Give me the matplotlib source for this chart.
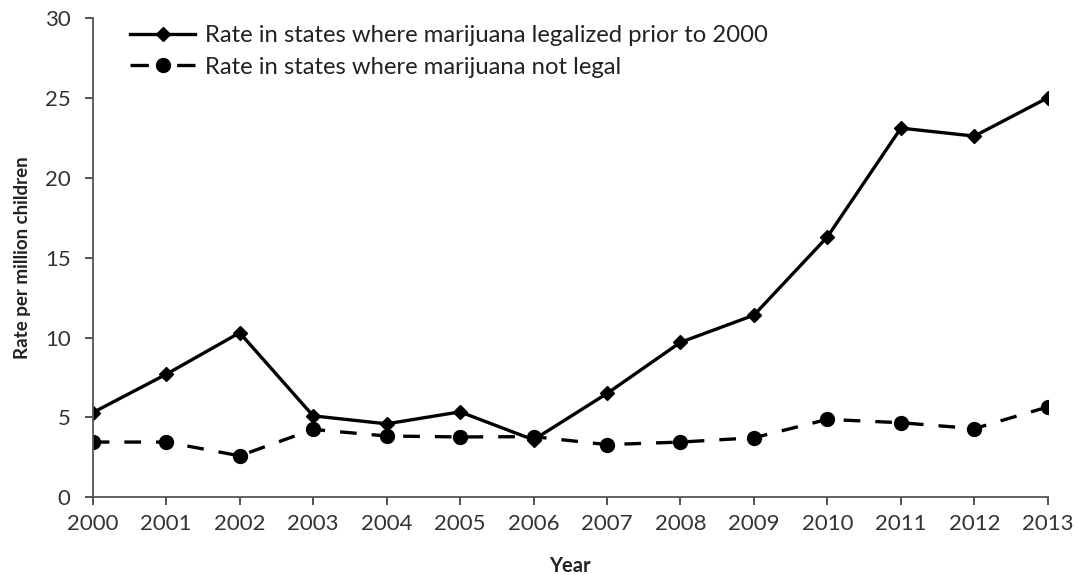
import matplotlib.pyplot as plt

years = [2000, 2001, 2002, 2003, 2004, 2005, 2006, 2007, 2008, 2009, 2010, 2011, 2012, 2013]
legal_rate = [5.3, 7.7, 10.3, 5.1, 4.6, 5.35, 3.6, 6.5, 9.7, 11.4, 16.3, 23.1, 22.6, 25.0]
not_legal_rate = [3.46, 3.46, 2.6, 4.25, 3.84, 3.78, 3.8, 3.3, 3.46, 3.73, 4.88, 4.67, 4.3, 5.66]
yticks = [0, 5, 10, 15, 20, 25, 30]

plt.rcParams['font.family'] = ['Lato', 'DejaVu Sans']

fig = plt.figure(figsize=(10.78, 5.75), dpi=100)
ax = fig.add_axes([0.086, 0.135, 0.886, 0.834])

ax.plot(years, legal_rate, color='black', linewidth=2.4, marker='D', markersize=7,
        label='Rate in states where marijuana legalized prior to 2000')
ax.plot(years, not_legal_rate, color='black', linewidth=2.4, linestyle=(0, (5, 4.5)),
        marker='o', markersize=10,
        label='Rate in states where marijuana not legal')

ax.set_xlim(2000, 2013)
ax.set_ylim(0, 30)
ax.set_xticks(years)
ax.set_yticks(yticks)
ax.tick_params(axis='both', labelsize=16, colors='#333333', length=6, width=1.2,
               direction='out')
ax.tick_params(axis='x', pad=6)
ax.tick_params(axis='y', pad=10)

for side in ['top', 'right']:
    ax.spines[side].set_visible(False)
for side in ['left', 'bottom']:
    ax.spines[side].set_color('#555555')
    ax.spines[side].set_linewidth(1.3)

ax.set_xlabel('Year', fontsize=14.5, fontweight='bold', color='#222222', labelpad=16)
ax.set_ylabel('Rate per million children', fontsize=13.5, fontweight='bold',
              color='#222222', labelpad=10)

leg = ax.legend(loc='upper left', bbox_to_anchor=(0.017, 1.03), frameon=False,
                fontsize=17.2, handlelength=2.7, handletextpad=0.4, labelspacing=0.45)
for text in leg.get_texts():
    text.set_color('#222222')
# dash - marker - dash in the legend key, like the original
leg.legend_handles[1].set_linestyle((0, (5.5, 8.5)))

plt.savefig('out.png', dpi=100)
plt.close()
